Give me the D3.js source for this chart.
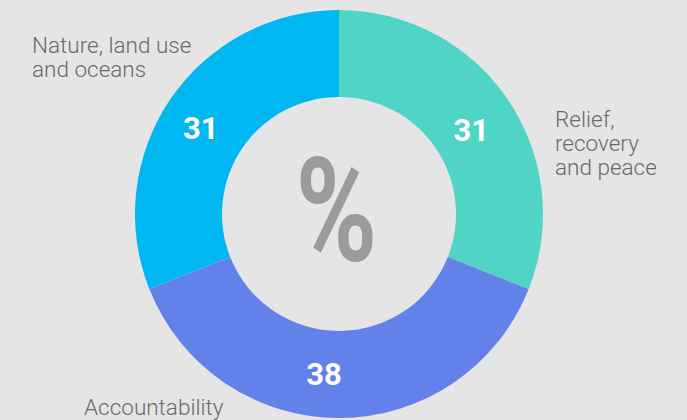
<!DOCTYPE html>
<html>
<head>
<meta charset="utf-8">
<script src="https://cdn.jsdelivr.net/npm/d3@7"></script>
<style>
  html, body { margin: 0; padding: 0; background: #e5e5e5; }
  svg { display: block; }
</style>
</head>
<body>
<svg id="chart" width="687" height="420"></svg>
<script>
// Share of funding by theme (%)
const categories = ["Relief, recovery and peace", "Accountability", "Nature, land use and oceans"];
const values = [31, 38, 31];
const colors = ["#4fd4c6", "#6282e9", "#00b7f1"];
// Category labels, split into lines
const labelLines = [["Relief,", "recovery", "and peace"], ["Accountability"], ["Nature, land use", "and oceans"]];

const svg = d3.select("#chart");
const cx = 339, cy = 214, outerR = 204, innerR = 117;
const FONT = "Roboto, 'Noto Sans', sans-serif";

const pie = d3.pie().sort(null).value(d => d)(values);
const arc = d3.arc().innerRadius(innerR).outerRadius(outerR);
const labelArc = d3.arc().innerRadius(160).outerRadius(160);
// small hand nudges so the numbers sit where the layout wants them
const nudge = [[0, 6], [-15, 0], [-6, 4]];

const g = svg.append("g").attr("transform", `translate(${cx},${cy})`);

g.selectAll("path.slice")
  .data(pie)
  .join("path")
  .attr("class", "slice")
  .attr("d", arc)
  .attr("fill", (d, i) => colors[i]);

// Value labels inside each slice
g.selectAll("text.value")
  .data(pie)
  .join("text")
  .attr("class", "value")
  .attr("transform", (d, i) => {
    const [x, y] = labelArc.centroid(d);
    return `translate(${x + nudge[i][0]},${y + nudge[i][1]})`;
  })
  .attr("text-anchor", "middle")
  .attr("dy", "0.36em")
  .attr("font-family", FONT)
  .attr("font-weight", 700)
  .attr("font-size", 31)
  .attr("fill", "#ffffff")
  .text(d => d.data);

// Centre symbol, fitted to its box using the real glyph bounds
const pctBox = { x0: -39, x1: 34, y0: -57, y1: 48 };
const ctx = document.createElement("canvas").getContext("2d");
ctx.font = `700 100px Roboto`;
const m = ctx.measureText("%");
const gw = m.actualBoundingBoxLeft + m.actualBoundingBoxRight;
const gh = m.actualBoundingBoxAscent + m.actualBoundingBoxDescent;
const sx = (pctBox.x1 - pctBox.x0) / gw;
const sy = (pctBox.y1 - pctBox.y0) / gh;
g.append("text")
  .attr("font-family", FONT)
  .attr("font-weight", 700)
  .attr("font-size", 100)
  .attr("fill", "#9b9b9b")
  .attr("transform", `translate(${pctBox.x0 + m.actualBoundingBoxLeft * sx},${pctBox.y0 + m.actualBoundingBoxAscent * sy}) scale(${sx},${sy})`)
  .text("%");

// Outer category labels
const labelPos = [
  { x: 555, y: 127 },
  { x: 84, y: 415 },
  { x: 32, y: 53 }
];
labelLines.forEach((lines, i) => {
  const t = svg.append("text")
    .attr("x", labelPos[i].x)
    .attr("y", labelPos[i].y)
    .attr("font-family", FONT)
    .attr("font-weight", 300)
    .attr("font-size", 22.5)
    .attr("fill", "#6a6a6a");
  lines.forEach((ln, j) => {
    t.append("tspan")
      .attr("x", labelPos[i].x)
      .attr("dy", j === 0 ? 0 : 24)
      .text(ln);
  });
});
</script>
</body>
</html>
